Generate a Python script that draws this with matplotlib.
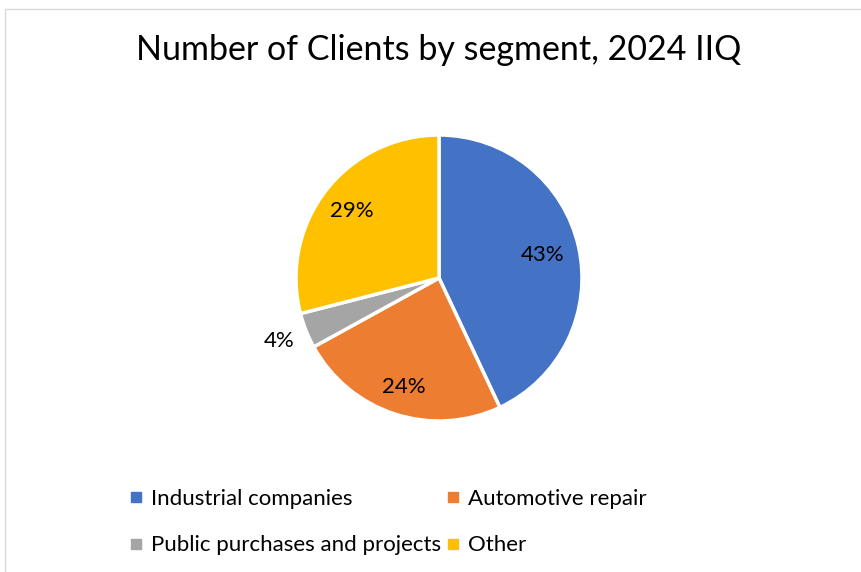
import numpy as np
import matplotlib
matplotlib.use("Agg")
import matplotlib.pyplot as plt
from matplotlib.patches import Rectangle
from matplotlib.lines import Line2D

# Chart data
segments = ["Industrial companies", "Automotive repair",
            "Public purchases and projects", "Other"]
shares = [43, 24, 4, 29]
colors = ["#4472C4", "#ED7D31", "#A5A5A5", "#FFC000"]
label_dist = [0.74, 0.80, 1.20, 0.77]

plt.rcParams['font.family'] = ['Lato', 'DejaVu Sans']

W, H = 861, 572
fig = plt.figure(figsize=(W / 100, H / 100), dpi=100)

# light chart-area border
fig.patches.append(Rectangle((5 / W, -0.1), 1.1, 1 - 9 / H + 0.1,
                             transform=fig.transFigure, fill=False,
                             edgecolor="#D9D9D9", linewidth=1.0))

cx, cy, r = 439, 278, 143
ax = fig.add_axes([(cx - r) / W, (H - cy - r) / H, 2 * r / W, 2 * r / H])
wedges, _ = ax.pie(shares, colors=colors, startangle=90, counterclock=False,
                   wedgeprops=dict(edgecolor="white", linewidth=2.5))
ax.set_xlim(-1, 1)
ax.set_ylim(-1, 1)
ax.set_aspect("equal")
ax.axis("off")

for w, v, d in zip(wedges, shares, label_dist):
    ang = np.deg2rad((w.theta1 + w.theta2) / 2)
    ax.text(d * np.cos(ang), d * np.sin(ang), f"{v}%", ha="center",
            va="center", fontsize=16, color="#000000")

fig.text(0.51, 1 - 50 / H, "Number of Clients by segment, 2024 IIQ",
         ha="center", va="center", fontsize=24.5, color="#000000")

# legend fills column by column: reorder so it reads row by row
order = [0, 2, 1, 3]
handles = [Line2D([], [], marker="s", linestyle="", markersize=7,
                  markerfacecolor=colors[i], markeredgecolor=colors[i])
           for i in order]
fig.legend(handles, [segments[i] for i in order], ncol=2, loc="center",
           bbox_to_anchor=(0.450, 1 - 522 / H), frameon=False, fontsize=16,
           handlelength=0.7, handletextpad=0.3, columnspacing=0.2,
           labelspacing=1.2)

fig.savefig("out.png", dpi=100, facecolor="white")
